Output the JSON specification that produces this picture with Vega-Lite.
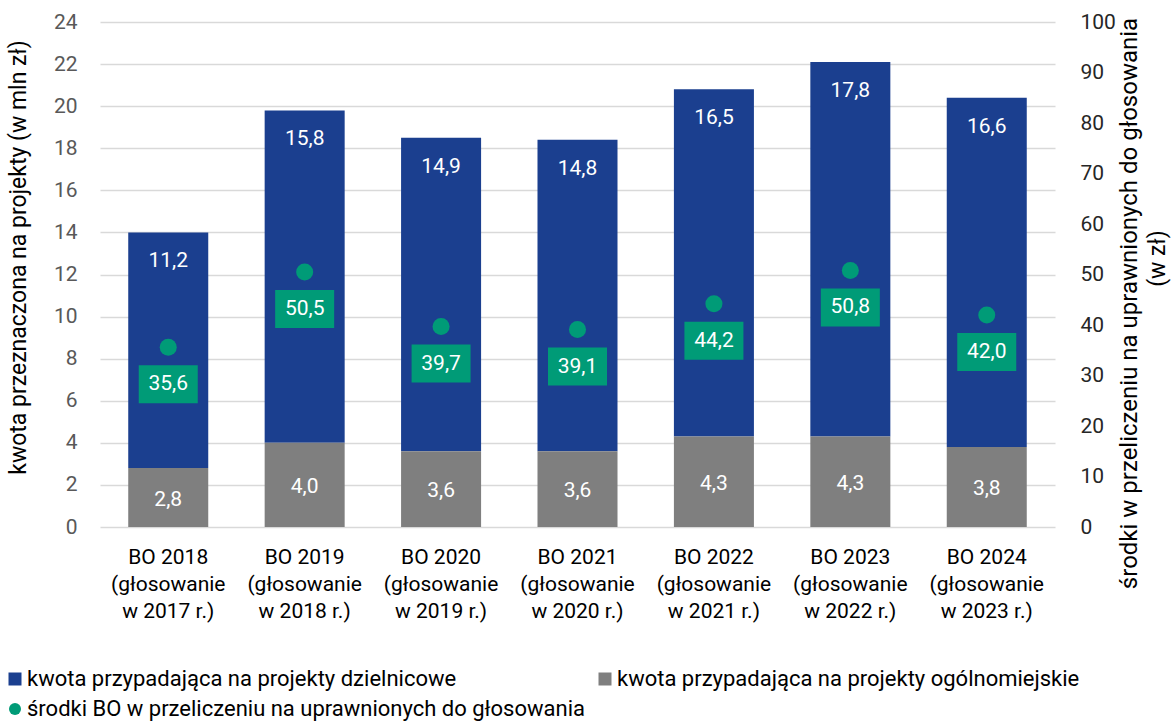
{
  "$schema": "https://vega.github.io/schema/vega-lite/v6.json",
  "width": 955,
  "height": 505,
  "autosize": {"type": "none"},
  "padding": {"left": 100, "top": 22, "right": 118, "bottom": 195},
  "config": {
    "font": "Roboto",
    "view": {"stroke": null},
    "locale": {"number": {"decimal": ",", "thousands": " ", "grouping": [3], "currency": ["", " zł"]}}
  },
  "title": {
    "text": "(w zł)",
    "orient": "right",
    "anchor": "middle",
    "angle": -90,
    "baseline": "middle",
    "offset": 6,
    "dx": 16,
    "dy": -12,
    "fontSize": 23,
    "fontWeight": "normal",
    "font": "Roboto",
    "color": "#000000"
  },
  "datasets": {
    "bars": [
      {"cat": "BO 2018|(głosowanie|w 2017 r.)", "series": "kwota przypadająca na projekty dzielnicowe", "value": 11.2},
      {"cat": "BO 2019|(głosowanie|w 2018 r.)", "series": "kwota przypadająca na projekty dzielnicowe", "value": 15.8},
      {"cat": "BO 2020|(głosowanie|w 2019 r.)", "series": "kwota przypadająca na projekty dzielnicowe", "value": 14.9},
      {"cat": "BO 2021|(głosowanie|w 2020 r.)", "series": "kwota przypadająca na projekty dzielnicowe", "value": 14.8},
      {"cat": "BO 2022|(głosowanie|w 2021 r.)", "series": "kwota przypadająca na projekty dzielnicowe", "value": 16.5},
      {"cat": "BO 2023|(głosowanie|w 2022 r.)", "series": "kwota przypadająca na projekty dzielnicowe", "value": 17.8},
      {"cat": "BO 2024|(głosowanie|w 2023 r.)", "series": "kwota przypadająca na projekty dzielnicowe", "value": 16.6},
      {"cat": "BO 2018|(głosowanie|w 2017 r.)", "series": "kwota przypadająca na projekty ogólnomiejskie", "value": 2.8},
      {"cat": "BO 2019|(głosowanie|w 2018 r.)", "series": "kwota przypadająca na projekty ogólnomiejskie", "value": 4.0},
      {"cat": "BO 2020|(głosowanie|w 2019 r.)", "series": "kwota przypadająca na projekty ogólnomiejskie", "value": 3.6},
      {"cat": "BO 2021|(głosowanie|w 2020 r.)", "series": "kwota przypadająca na projekty ogólnomiejskie", "value": 3.6},
      {"cat": "BO 2022|(głosowanie|w 2021 r.)", "series": "kwota przypadająca na projekty ogólnomiejskie", "value": 4.3},
      {"cat": "BO 2023|(głosowanie|w 2022 r.)", "series": "kwota przypadająca na projekty ogólnomiejskie", "value": 4.3},
      {"cat": "BO 2024|(głosowanie|w 2023 r.)", "series": "kwota przypadająca na projekty ogólnomiejskie", "value": 3.8}
    ],
    "dots": [
      {"cat": "BO 2018|(głosowanie|w 2017 r.)", "value": 35.6},
      {"cat": "BO 2019|(głosowanie|w 2018 r.)", "value": 50.5},
      {"cat": "BO 2020|(głosowanie|w 2019 r.)", "value": 39.7},
      {"cat": "BO 2021|(głosowanie|w 2020 r.)", "value": 39.1},
      {"cat": "BO 2022|(głosowanie|w 2021 r.)", "value": 44.2},
      {"cat": "BO 2023|(głosowanie|w 2022 r.)", "value": 50.8},
      {"cat": "BO 2024|(głosowanie|w 2023 r.)", "value": 42.0}
    ]
  },
  "encoding": {
    "x": {
      "field": "cat",
      "type": "nominal",
      "sort": null,
      "scale": {
        "domain": ["BO 2018|(głosowanie|w 2017 r.)", "BO 2019|(głosowanie|w 2018 r.)", "BO 2020|(głosowanie|w 2019 r.)", "BO 2021|(głosowanie|w 2020 r.)", "BO 2022|(głosowanie|w 2021 r.)", "BO 2023|(głosowanie|w 2022 r.)", "BO 2024|(głosowanie|w 2023 r.)"],
        "paddingInner": 0.4135,
        "paddingOuter": 0.207
      },
      "axis": {
        "orient": "bottom",
        "title": null,
        "domain": false,
        "ticks": false,
        "labelAngle": 0,
        "labelFontSize": 21,
        "labelColor": "#000000",
        "labelPadding": 19,
        "labelLineHeight": 27,
        "labelExpr": "split(datum.label, '|')"
      }
    }
  },
  "layer": [
    {
      "data": {"name": "bars"},
      "transform": [{"stack": "value", "groupby": ["cat"], "sort": [{"field": "series", "order": "descending"}], "as": ["y0", "y1"]}],
      "mark": {"type": "bar"},
      "encoding": {
        "y": {
          "field": "y0",
          "type": "quantitative",
          "scale": {"domain": [0, 24], "nice": false},
          "axis": {
            "orient": "left",
            "values": [0, 2, 4, 6, 8, 10, 12, 14, 16, 18, 20, 22, 24],
            "grid": true,
            "gridColor": "#D9D9D9",
            "gridWidth": 1.3,
            "domain": false,
            "ticks": false,
            "labelFontSize": 21,
            "labelColor": "#595959",
            "labelPadding": 23,
            "title": "kwota przeznaczona na projekty (w mln zł)",
            "titleFontSize": 23,
            "titleFontWeight": "normal",
            "titleColor": "#000000",
            "titleAngle": -90,
            "titleBaseline": "middle",
            "titleAlign": "center",
            "titleX": -82,
            "titleY": 235
          }
        },
        "y2": {"field": "y1"},
        "color": {
          "field": "series",
          "type": "nominal",
          "scale": {"domain": ["kwota przypadająca na projekty dzielnicowe", "kwota przypadająca na projekty ogólnomiejskie"], "range": ["#1B3F8F", "#7F7F7F"]},
          "legend": {
            "orient": "none",
            "legendX": -96,
            "legendY": 646,
            "direction": "horizontal",
            "columns": 2,
            "columnPadding": 137,
            "title": null,
            "symbolType": "square",
            "symbolSize": 169,
            "symbolStrokeWidth": 0,
            "labelFontSize": 22,
            "labelColor": "#000000",
            "labelOffset": 1,
            "labelLimit": 700,
            "padding": 0
          }
        }
      }
    },
    {
      "data": {"name": "bars"},
      "transform": [
        {"stack": "value", "groupby": ["cat"], "sort": [{"field": "series", "order": "descending"}], "as": ["y0", "y1"]},
        {"filter": "datum.series == 'kwota przypadająca na projekty dzielnicowe'"}
      ],
      "mark": {"type": "text", "color": "#FFFFFF", "fontSize": 21, "dy": 29},
      "encoding": {
        "y": {"field": "y1", "type": "quantitative", "scale": {"domain": [0, 24], "nice": false}, "axis": null},
        "text": {"field": "value", "type": "quantitative", "format": ".1f"}
      }
    },
    {
      "data": {"name": "bars"},
      "transform": [{"filter": "datum.series == 'kwota przypadająca na projekty ogólnomiejskie'"}],
      "mark": {"type": "text", "color": "#FFFFFF", "fontSize": 21, "dy": 2},
      "encoding": {
        "y": {"field": "value", "type": "quantitative", "scale": {"domain": [0, 48], "nice": false}, "axis": null},
        "text": {"field": "value", "type": "quantitative", "format": ".1f"}
      }
    },
    {
      "data": {"name": "dots"},
      "mark": {"type": "point", "filled": true, "opacity": 1, "size": 290},
      "encoding": {
        "y": {
          "field": "value",
          "type": "quantitative",
          "scale": {"domain": [0, 100], "nice": false},
          "axis": {
            "orient": "right",
            "values": [0, 10, 20, 30, 40, 50, 60, 70, 80, 90, 100],
            "grid": false,
            "domain": false,
            "ticks": false,
            "labelFontSize": 21,
            "labelColor": "#262626",
            "labelPadding": 25,
            "title": "środki w przeliczeniu na uprawnionych do głosowania",
            "titleFontSize": 24,
            "titleFontWeight": "normal",
            "titleColor": "#000000",
            "titleAngle": -90,
            "titleBaseline": "middle",
            "titleAlign": "center",
            "titleX": 74,
            "titleY": 281
          }
        },
        "color": {
          "datum": "środki BO w przeliczeniu na uprawnionych do głosowania",
          "type": "nominal",
          "scale": {"range": ["#009B77"]},
          "legend": {
            "orient": "none",
            "legendX": -96,
            "legendY": 676,
            "title": null,
            "symbolType": "circle",
            "symbolSize": 145,
            "labelFontSize": 22,
            "labelColor": "#000000",
            "labelOffset": 1,
            "labelLimit": 700,
            "padding": 0
          }
        }
      }
    },
    {
      "data": {"name": "dots"},
      "mark": {"type": "point", "filled": true, "opacity": 1, "color": "#009B77", "size": 3481, "shape": "M-1,-0.644L1,-0.644L1,0.644L-1,0.644Z", "yOffset": 37},
      "encoding": {
        "y": {"field": "value", "type": "quantitative", "scale": {"domain": [0, 100], "nice": false}, "axis": null}
      }
    },
    {
      "data": {"name": "dots"},
      "mark": {"type": "text", "color": "#FFFFFF", "fontSize": 21, "dy": 37},
      "encoding": {
        "y": {"field": "value", "type": "quantitative", "scale": {"domain": [0, 100], "nice": false}, "axis": null},
        "text": {"field": "value", "type": "quantitative", "format": ".1f"}
      }
    }
  ],
  "resolve": {"scale": {"y": "independent", "color": "independent"}}
}
